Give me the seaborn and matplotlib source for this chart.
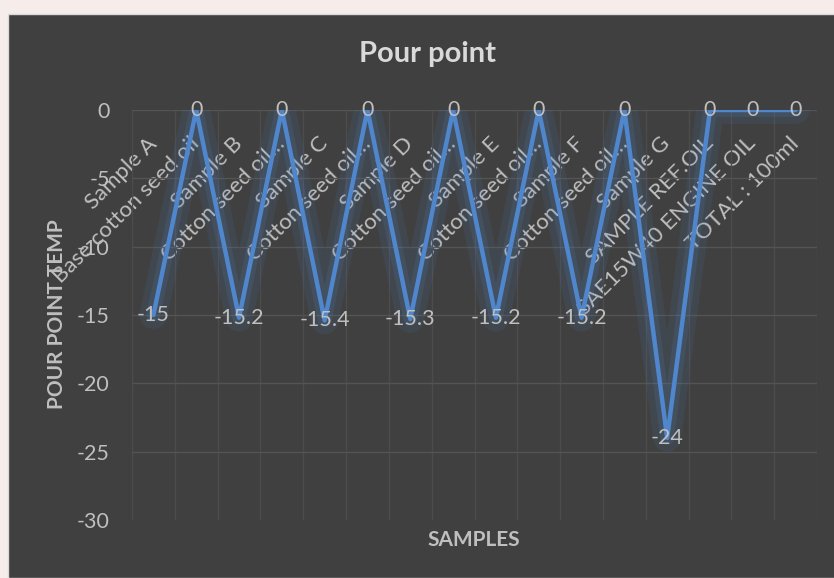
import numpy as np
import pandas as pd
import seaborn as sns
import matplotlib.pyplot as plt
from matplotlib.patches import Rectangle

categories = ['Sample A', 'Base cotton seed oil', 'Sample B', 'Cotton seed oil…',
              'Sample C', 'Cotton seed oil…', 'Sample D', 'Cotton seed oil…',
              'Sample E', 'Cotton seed oil…', 'Sample F', 'Cotton seed oil…',
              'Sample G', 'SAMPLE REF.OIL', 'SAE15W40 ENGINE OIL', 'TOTAL : 100ml']
pour_point = [-15, 0, -15.2, 0, -15.4, 0, -15.3, 0, -15.2, 0, -15.2, 0, -24, 0, 0, 0]
y_ticks = [0, -5, -10, -15, -20, -25, -30]

df = pd.DataFrame({'pos': np.arange(len(categories)), 'temp': pour_point})

sns.set_style('dark')
plt.rcParams['font.family'] = ['Lato', 'DejaVu Sans']

bg = '#404040'
txt = '#bfbfbf'
blue = '#4f86cc'

fig = plt.figure(figsize=(8.34, 5.78), dpi=100)
fig.patch.set_facecolor('#f6ecea')
fig.patches.append(Rectangle((8 / 834, 0), 1, 1 - 14 / 578, transform=fig.transFigure,
                             facecolor=bg, edgecolor='#d9d9d9', lw=1, zorder=-5))
ax = fig.add_axes([132 / 834, 1 - 520 / 578, 685 / 834, 410 / 578])
ax.set_facecolor(bg)

# glow behind the line
sns.lineplot(data=df, x='pos', y='temp', ax=ax, color=blue, lw=20, alpha=0.10)
sns.lineplot(data=df, x='pos', y='temp', ax=ax, color=blue, lw=10, alpha=0.15)
sns.lineplot(data=df, x='pos', y='temp', ax=ax, color=blue, lw=3.2)

for x, v in zip(df['pos'], df['temp']):
    ax.text(x, v, f'{v:g}', ha='center', va='center', color=txt, fontsize=15.5, zorder=5)

# category axis sits at y = 0 (top), labels hang below it
ax.spines['bottom'].set_position(('data', 0))
for s in ax.spines.values():
    s.set_visible(False)

ax.set_xlim(-0.5, len(categories) - 0.5)
ax.set_ylim(-30, 0)
ax.set_yticks(y_ticks)
ax.set_yticklabels([str(t) for t in y_ticks], color=txt, fontsize=15.5)
ax.set_xticks(df['pos'])
ax.set_xticklabels(categories, rotation=45, ha='right', va='center',
                   rotation_mode='anchor', color=txt, fontsize=16)
ax.set_xticks(np.arange(len(categories) + 1) - 0.5, minor=True)
ax.tick_params(axis='both', which='both', length=0)
ax.tick_params(axis='x', pad=22)
ax.tick_params(axis='y', pad=16)

ax.grid(False)
ax.yaxis.grid(True, color='#545454', lw=1)
ax.xaxis.grid(True, which='minor', color='#4c4c4c', lw=1)
ax.get_ygridlines()[-1].set_visible(False)
ax.set_axisbelow(True)

ax.set_xlabel('')
ax.set_ylabel('')
fig.text(474 / 834, 1 - 540 / 578, 'SAMPLES', ha='center', va='center',
         color=txt, fontsize=15, fontweight='bold')
fig.text(57 / 834, 1 - 314 / 578, 'POUR POINT TEMP', ha='center', va='center',
         rotation=90, color=txt, fontsize=15, fontweight='bold')
fig.text(427 / 834, 1 - 54 / 578, 'Pour point', ha='center', va='center',
         color='#d9d9d9', fontsize=21, fontweight='bold')

fig.savefig('out.png', dpi=100, facecolor=fig.get_facecolor())
